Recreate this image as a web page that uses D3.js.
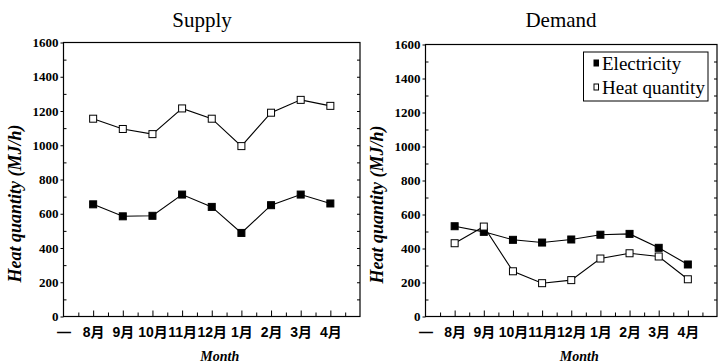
<!DOCTYPE html>
<html><head><meta charset="utf-8">
<script src="https://cdn.jsdelivr.net/npm/d3@7"></script>
<style>body{margin:0;background:#fff}
.serif{font-family:'Liberation Serif','Times New Roman',serif}
.sans{font-family:'Liberation Sans','Noto Sans CJK JP',sans-serif}
</style>
</head><body>
<script>
const categories = ["—","8月","9月","10月","11月","12月","1月","2月","3月","4月"];
const yTicks = [0,200,400,600,800,1000,1200,1400,1600];
const supplyElectricity = [null,655,585,588,712,640,488,650,712,660];
const supplyHeat = [null,1155,1095,1065,1215,1155,995,1190,1265,1230];
const demandElectricity = [null,531,498,451,435,453,481,486,404,306];
const demandHeat = [null,431,529,266,196,214,341,372,353,219];

const W=727,H=364;
const svg=d3.select("body").append("svg").attr("width",W).attr("height",H);

function panel(o){
  const x=d3.scaleLinear().domain([0,10]).range([o.x0,o.x1]);
  const y=d3.scaleLinear().domain([0,1600]).range([o.yb,o.yt]);
  const g=svg.append("g");
  g.append("rect").attr("x",o.x0).attr("y",o.yt).attr("width",o.x1-o.x0).attr("height",o.yb-o.yt)
    .attr("fill","none").attr("stroke","#000").attr("stroke-width",1.2);
  const yl=g.append("g").attr("transform",`translate(${o.x0},0)`)
    .call(d3.axisLeft(y).tickValues(yTicks).tickSize(3).tickPadding(2).tickFormat(d3.format("d")));
  yl.attr("font-family",null);
  yl.select(".domain").remove();
  yl.selectAll("text").attr("class","serif").attr("font-weight","bold").attr("font-size",13).attr("fill","#000");
  const minor=d3.range(100,1600,200);
  g.append("g").attr("transform",`translate(${o.x0},0)`)
    .call(d3.axisRight(y).tickValues(minor).tickSize(3).tickFormat("")).select(".domain").remove();
  g.append("g").attr("transform",`translate(${o.x1},0)`)
    .call(d3.axisLeft(y).tickValues(d3.range(100,1600,100)).tickSize(3).tickFormat("")).select(".domain").remove();
  g.append("g").attr("transform",`translate(0,${o.yb})`)
    .call(d3.axisTop(x).tickValues(d3.range(1,10)).tickSize(6).tickFormat("")).select(".domain").remove();
  g.append("g").attr("transform",`translate(0,${o.yb})`)
    .call(d3.axisTop(x).tickValues(d3.range(0.5,10,1)).tickSize(4).tickFormat("")).select(".domain").remove();
  const xb=g.append("g").attr("transform",`translate(0,${o.yb})`)
    .call(d3.axisBottom(x).tickValues(d3.range(0,10)).tickSize(0).tickPadding(11).tickFormat(i=>categories[i]));
  xb.attr("font-family",null);
  xb.select(".domain").remove();
  xb.selectAll("text").attr("class","sans").attr("font-weight","bold").attr("font-size",14).attr("fill","#000");
  g.selectAll(".tick line").attr("stroke","#000");
  g.append("text").attr("class","serif").attr("x",o.tx).attr("y",27).attr("text-anchor","middle")
    .attr("font-size",21).text(o.title);
  g.append("text").attr("class","serif").attr("x",(o.x0+o.x1)/2+8).attr("y",361).attr("text-anchor","middle")
    .attr("font-weight","bold").attr("font-style","italic").attr("font-size",14).text("Month");
  g.append("text").attr("class","serif").attr("transform",`translate(${o.lx},${(o.yt+o.yb)/2+24}) rotate(-90)`).attr("text-anchor","middle")
    .attr("font-weight","bold").attr("font-style","italic").attr("font-size",18).text("Heat quantity (MJ/h)");
  const line=d3.line().defined(d=>d!=null).x((d,i)=>x(i)).y(d=>y(d));
  o.series.forEach(s=>{
    g.append("path").attr("d",line(s.v)).attr("fill","none").attr("stroke","#000").attr("stroke-width",1.1);
  });
  o.series.forEach(s=>{
    g.selectAll(null).data(s.v.map((v,i)=>({v,i})).filter(d=>d.v!=null)).enter().append("rect")
      .attr("x",d=>x(d.i)-3.5).attr("y",d=>y(d.v)-3.5).attr("width",7).attr("height",7)
      .attr("fill",s.filled?"#000":"#fff").attr("stroke","#000").attr("stroke-width",1);
  });
}

panel({x0:63.5,x1:360,yt:42.5,yb:316.5,title:"Supply",tx:202,lx:21,
  series:[{v:supplyHeat,filled:false},{v:supplyElectricity,filled:true}]});
panel({x0:425.5,x1:717,yt:44.5,yb:316.5,title:"Demand",tx:561,lx:383,
  series:[{v:demandElectricity,filled:true},{v:demandHeat,filled:false}]});

const lg=svg.append("g");
lg.append("rect").attr("x",583.5).attr("y",52).attr("width",124.5).attr("height",49)
  .attr("fill","#fff").attr("stroke","#000").attr("stroke-width",1);
const legendItems=[{name:"Electricity",filled:true},{name:"Heat quantity",filled:false}];
legendItems.forEach((d,i)=>{
  const cy=63+i*24;
  lg.append("rect").attr("x",594).attr("y",cy-3).attr("width",4.5).attr("height",6)
    .attr("fill",d.filled?"#000":"#fff").attr("stroke","#000").attr("stroke-width",1);
  lg.append("text").attr("class","serif").attr("x",602).attr("y",cy+6.5).attr("font-size",19).text(d.name);
});
</script>
</body></html>
